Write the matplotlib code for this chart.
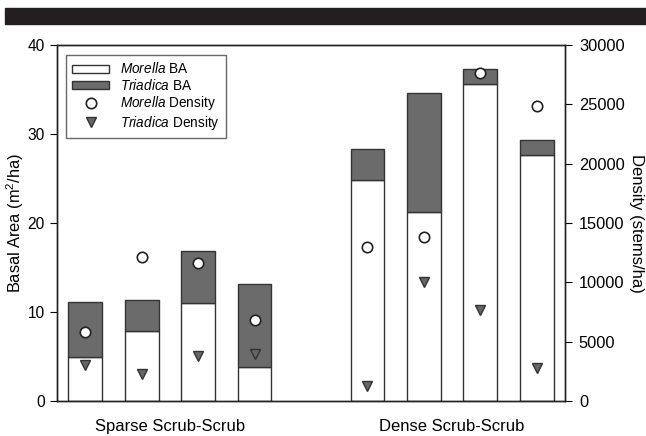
import matplotlib
matplotlib.use("Agg")
import matplotlib.pyplot as plt
from matplotlib.patches import Rectangle
import numpy as np

plt.rcParams['font.family'] = ['Liberation Sans', 'DejaVu Sans']
plt.rcParams['mathtext.fontset'] = 'custom'
plt.rcParams['mathtext.rm'] = 'Liberation Sans'
plt.rcParams['mathtext.it'] = 'Liberation Sans:italic'

# plot positions, with a one-slot gap between the two habitat groups
positions = [0, 1, 2, 3, 5, 6, 7, 8]
groups = ['Sparse Scrub-Scrub', 'Dense Scrub-Scrub']
group_centers = [1.5, 6.5]

morella_ba = [4.9, 7.9, 11.0, 3.8, 24.8, 21.2, 35.6, 27.6]
triadica_ba = [6.2, 3.4, 5.9, 9.3, 3.5, 13.4, 1.7, 1.7]
morella_density = [5840, 12100, 11600, 6800, 12950, 13800, 27650, 24900]
triadica_density = [3030, 2270, 3790, 4000, 1260, 10050, 7670, 2750]

fig = plt.figure(figsize=(6.46, 4.36), dpi=100)
fig.patches.append(Rectangle((5 / 646, 1 - 24 / 436), 1, 16 / 436,
                             transform=fig.transFigure, color='#231f20', zorder=0))

ax = fig.add_axes([57 / 646, 35 / 436, 508 / 646, 356 / 436])
ax2 = ax.twinx()

edge = '#333333'
b1 = ax.bar(positions, morella_ba, width=0.6, color='white', edgecolor=edge, linewidth=1.0)
b2 = ax.bar(positions, triadica_ba, width=0.6, bottom=morella_ba, color='#6b6b6b',
            edgecolor=edge, linewidth=1.0)

m1, = ax2.plot(positions, morella_density, 'o', ms=7.5, mfc='white', mec='#222222',
               mew=1.2, ls='none')
m2, = ax2.plot(positions, triadica_density, 'v', ms=7.5, mfc='#666666', mec='#333333',
               mew=1.0, ls='none')

ax.set_xlim(-0.5, 8.5)
ax.set_ylim(0, 40)
ax2.set_ylim(0, 30000)
ax.set_yticks([0, 10, 20, 30, 40])
ax2.set_yticks(np.arange(0, 30001, 5000))
ax.set_xticks(group_centers)
ax.set_xticklabels(groups, fontsize=12)
ax.tick_params(axis='x', length=0, pad=13)
ax.tick_params(axis='y', direction='out', length=5, labelsize=11.2, pad=4)
ax2.tick_params(axis='y', direction='out', length=5, labelsize=11.8, pad=5)

for a in (ax, ax2):
    for s in a.spines.values():
        s.set_linewidth(1.0)
        s.set_color('#222222')

ax.set_ylabel('Basal Area (m$^2$/ha)', fontsize=11.8, va='center')
ax.yaxis.set_label_coords(-0.083, 0.5)
ax2.set_ylabel('Density (stems/ha)', fontsize=12, rotation=-90, va='center')
ax2.yaxis.set_label_coords(1.14, 0.5)

leg = ax2.legend([b1, b2, m1, m2],
                 [r'$\mathit{Morella}$ BA', r'$\mathit{Triadica}$ BA',
                  r'$\mathit{Morella}$ Density', r'$\mathit{Triadica}$ Density'],
                 loc='upper left', bbox_to_anchor=(0.005, 0.99), fontsize=9.8,
                 frameon=True, fancybox=False, edgecolor='#444444',
                 handlelength=2.7, handleheight=0.5, handletextpad=0.8,
                 labelspacing=0.1, borderpad=0.45)
leg.get_frame().set_linewidth(1.0)

fig.savefig('out.png', dpi=100)
